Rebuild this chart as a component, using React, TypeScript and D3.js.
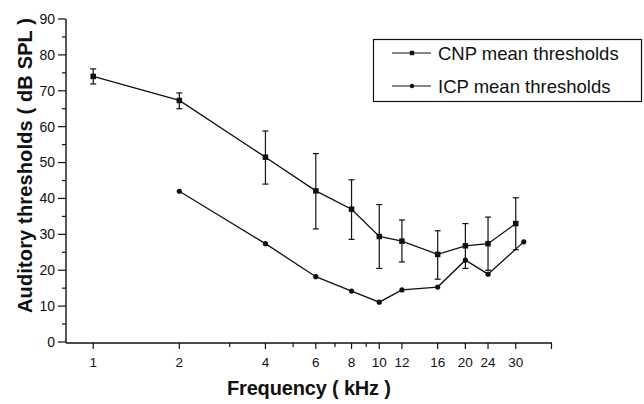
import React from "react";
import * as d3 from "d3";

const freqCNP = [1, 2, 4, 6, 8, 10, 12, 16, 20, 24, 30];
const cnpMean = [74.0, 67.3, 51.5, 42.1, 37.0, 29.4, 28.1, 24.4, 26.8, 27.4, 33.0];
const cnpUpper = [76.1, 69.4, 58.8, 52.5, 45.2, 38.3, 34.0, 31.0, 33.0, 34.8, 40.2];
const cnpLower = [71.9, 65.0, 44.0, 31.5, 28.6, 20.5, 22.3, 17.5, 20.5, 20.0, 25.7];

const freqICP = [2, 4, 6, 8, 10, 12, 16, 20, 24, 32];
const icpMean = [42.0, 27.4, 18.2, 14.2, 11.1, 14.5, 15.3, 22.8, 18.9, 27.9];

const xTickLabels = [1, 2, 4, 6, 8, 10, 12, 16, 20, 24, 30];
const xMinorTicks = [3, 5, 7, 9];
const xEndTick = [40];
const yMajorTicks = [0, 10, 20, 30, 40, 50, 60, 70, 80, 90];
const yMinorTicks = [5, 15, 25, 35, 45, 55, 65, 75, 85];

const seriesNames = ["CNP mean thresholds", "ICP mean thresholds"];

export default function App() {
  const x = d3.scaleLog().domain([0.8, 40]).range([65.5, 551.5]);
  const y = d3.scaleLinear().domain([0, 90]).range([342, 19]);
  const axisY = 343;
  const axisX = 66;
  const ink = "#111";
  const font = "'Liberation Sans', Arial, Helvetica, sans-serif";

  const line = d3
    .line<[number, number]>()
    .x((d) => x(d[0]))
    .y((d) => y(d[1]));

  const cnpPts: [number, number][] = freqCNP.map((f, i) => [f, cnpMean[i]]);
  const icpPts: [number, number][] = freqICP.map((f, i) => [f, icpMean[i]]);

  const sq = 5.5;
  const cap = 3;

  return (
    <svg
      width={644}
      height={404}
      style={{ position: "absolute", left: 0, top: 0, background: "#fff" }}
      fontFamily={font}
    >
      <rect x={0} y={0} width={644} height={404} fill="#fff" />
      {/* axes */}
      <line x1={axisX} y1={19} x2={axisX} y2={axisY} stroke={ink} strokeWidth={1.4} />
      <line x1={axisX} y1={axisY} x2={552} y2={axisY} stroke={ink} strokeWidth={1.4} />
      {yMajorTicks.map((t) => (
        <g key={"ym" + t}>
          <line x1={58} x2={axisX} y1={y(t)} y2={y(t)} stroke={ink} strokeWidth={1.2} />
          <text x={55} y={y(t)} dy="0.35em" textAnchor="end" fontSize={14} fill={ink}>
            {t}
          </text>
        </g>
      ))}
      {yMinorTicks.map((t) => (
        <line key={"yn" + t} x1={62} x2={axisX} y1={y(t)} y2={y(t)} stroke={ink} strokeWidth={1.2} />
      ))}
      {xTickLabels.map((t) => (
        <g key={"xm" + t}>
          <line x1={x(t)} x2={x(t)} y1={axisY} y2={axisY + 6} stroke={ink} strokeWidth={1.2} />
          <text x={x(t)} y={366.5} textAnchor="middle" fontSize={13.5} fill={ink}>
            {t}
          </text>
        </g>
      ))}
      {xMinorTicks.map((t) => (
        <line key={"xn" + t} x1={x(t)} x2={x(t)} y1={axisY} y2={axisY + 4} stroke={ink} strokeWidth={1.2} />
      ))}
      {xEndTick.map((t) => (
        <line key={"xe" + t} x1={x(t)} x2={x(t)} y1={axisY} y2={axisY + 6} stroke={ink} strokeWidth={1.2} />
      ))}

      {/* axis titles */}
      <text
        transform="translate(32,165.5) rotate(-90)"
        textAnchor="middle"
        fontSize={20}
        fontWeight="bold"
        fill={ink}
        textLength={295}
        lengthAdjust="spacing"
      >
        Auditory thresholds ( dB SPL )
      </text>
      <text
        x={309}
        y={395}
        textAnchor="middle"
        fontSize={20}
        fontWeight="bold"
        fill={ink}
        textLength={164}
        lengthAdjust="spacing"
      >
        Frequency ( kHz )
      </text>

      {/* error bars */}
      {freqCNP.map((f, i) => (
        <g key={"eb" + f} stroke={ink} strokeWidth={1.2}>
          <line x1={x(f)} x2={x(f)} y1={y(cnpUpper[i])} y2={y(cnpLower[i])} />
          <line x1={x(f) - cap} x2={x(f) + cap} y1={y(cnpUpper[i])} y2={y(cnpUpper[i])} />
          <line x1={x(f) - cap} x2={x(f) + cap} y1={y(cnpLower[i])} y2={y(cnpLower[i])} />
        </g>
      ))}

      {/* lines */}
      <path d={line(cnpPts) || ""} fill="none" stroke={ink} strokeWidth={1.3} />
      <path d={line(icpPts) || ""} fill="none" stroke={ink} strokeWidth={1.3} />

      {/* markers */}
      {cnpPts.map((p) => (
        <rect key={"s" + p[0]} x={x(p[0]) - sq / 2} y={y(p[1]) - sq / 2} width={sq} height={sq} fill={ink} />
      ))}
      {icpPts.map((p) => (
        <circle key={"c" + p[0]} cx={x(p[0])} cy={y(p[1])} r={2.6} fill={ink} />
      ))}

      {/* legend */}
      <rect x={373.5} y={39.5} width={268} height={62} fill="#fff" stroke={ink} strokeWidth={1.2} />
      <line x1={392} x2={431} y1={53} y2={53} stroke={ink} strokeWidth={1.2} />
      <rect x={412 - 2.2} y={53 - 2.2} width={4.4} height={4.4} fill={ink} />
      <text x={438} y={59.5} fontSize={18.5} fill={ink}>
        {seriesNames[0]}
      </text>
      <line x1={392} x2={431} y1={86} y2={86} stroke={ink} strokeWidth={1.2} />
      <circle cx={412} cy={86} r={2.2} fill={ink} />
      <text x={438} y={92.5} fontSize={18.5} fill={ink}>
        {seriesNames[1]}
      </text>
    </svg>
  );
}
